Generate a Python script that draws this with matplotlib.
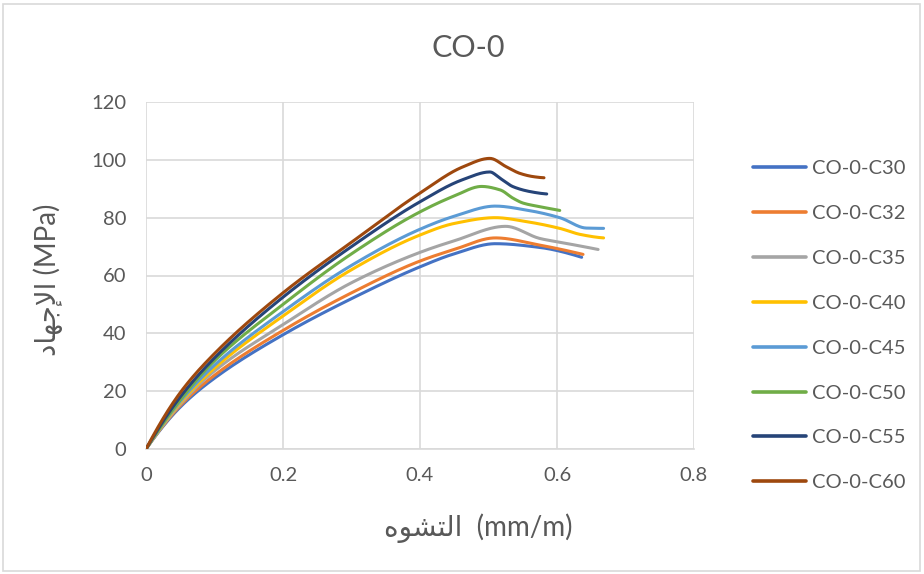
import numpy as np
import matplotlib
matplotlib.use("Agg")
import matplotlib.pyplot as plt
from matplotlib.patches import Rectangle

# ---------------- data ----------------
title = "CO-0"
series_labels = ["CO-0-C30", "CO-0-C32", "CO-0-C35", "CO-0-C40",
                 "CO-0-C45", "CO-0-C50", "CO-0-C55", "CO-0-C60"]
series_colors = ["#4472C4", "#ED7D31", "#A5A5A5", "#FFC000",
                 "#5B9BD5", "#70AD47", "#264478", "#9E480E"]

strain_c30 = [0, 0.05, 0.1, 0.2, 0.3, 0.4, 0.45, 0.51, 0.575, 0.636]
stress_c30 = [0, 14.5, 24.5, 39.5, 52.0, 63.0, 67.5, 71.0, 69.7, 66.3]

strain_c32 = [0, 0.05, 0.1, 0.2, 0.3, 0.4, 0.45, 0.51, 0.575, 0.638]
stress_c32 = [0, 15.0, 25.5, 41.0, 54.0, 65.0, 69.0, 73.0, 70.5, 67.3]

strain_c35 = [0, 0.05, 0.1, 0.2, 0.3, 0.4, 0.45, 0.525, 0.575, 0.604, 0.634, 0.66]
stress_c35 = [0, 15.5, 27.0, 43.0, 57.5, 68.0, 72.0, 77.0, 72.8, 71.5, 70.2, 69.0]

strain_c40 = [0, 0.05, 0.1, 0.2, 0.3, 0.4, 0.45, 0.51, 0.556, 0.604, 0.634, 0.668]
stress_c40 = [0, 16.0, 28.0, 46.0, 62.0, 74.0, 78.0, 80.0, 78.6, 76.3, 74.2, 73.0]

strain_c45 = [0, 0.05, 0.1, 0.2, 0.3, 0.4, 0.45, 0.51, 0.556, 0.604, 0.643, 0.668]
stress_c45 = [0, 16.5, 29.0, 47.5, 63.5, 76.0, 80.5, 84.0, 82.6, 80.0, 76.4, 76.3]

strain_c50 = [0, 0.05, 0.1, 0.2, 0.3, 0.4, 0.45, 0.49, 0.517, 0.536, 0.551, 0.575, 0.604]
stress_c50 = [0, 17.0, 30.5, 50.0, 67.5, 82.0, 87.5, 90.8, 89.6, 86.7, 85.0, 83.8, 82.5]

strain_c55 = [0, 0.05, 0.1, 0.2, 0.3, 0.4, 0.463, 0.502, 0.517, 0.536, 0.561, 0.585]
stress_c55 = [0, 18.0, 31.5, 52.5, 70.0, 85.5, 93.2, 95.8, 93.6, 90.7, 89.0, 88.2]

strain_c60 = [0, 0.05, 0.1, 0.2, 0.3, 0.4, 0.463, 0.502, 0.526, 0.546, 0.565, 0.581]
stress_c60 = [0, 19.5, 33.0, 54.0, 71.5, 88.5, 97.6, 100.5, 97.6, 95.3, 94.2, 93.8]

x_ticks = [0, 0.2, 0.4, 0.6, 0.8]
x_tick_labels = ["0", "0.2", "0.4", "0.6", "0.8"]
y_ticks = [0, 20, 40, 60, 80, 100, 120]

# Arabic text in pre-shaped presentation forms, visual (left-to-right) order
x_label = "\uFEE9\uFEEE\uFEB8\uFE98\uFEDF\uFE8D  (mm/m)"      # التشوه (mm/m)
y_label = "\uFEA9\uFE8E\uFEEC\uFE9F\uFEF9\uFE8D (MPa)"        # الإجهاد (MPa)

series = [(strain_c30, stress_c30), (strain_c32, stress_c32),
          (strain_c35, stress_c35), (strain_c40, stress_c40),
          (strain_c45, stress_c45), (strain_c50, stress_c50),
          (strain_c55, stress_c55), (strain_c60, stress_c60)]


def pchip(x, y, xs):
    x = np.asarray(x, float)
    y = np.asarray(y, float)
    n = len(x)
    h = np.diff(x)
    delta = np.diff(y) / h
    d = np.zeros(n)
    for k in range(1, n - 1):
        if delta[k - 1] * delta[k] > 0:
            w1 = 2 * h[k] + h[k - 1]
            w2 = h[k] + 2 * h[k - 1]
            d[k] = (w1 + w2) / (w1 / delta[k - 1] + w2 / delta[k])
    d0 = ((2 * h[0] + h[1]) * delta[0] - h[0] * delta[1]) / (h[0] + h[1])
    if np.sign(d0) != np.sign(delta[0]):
        d0 = 0
    d[0] = d0
    dn = ((2 * h[-1] + h[-2]) * delta[-1] - h[-1] * delta[-2]) / (h[-1] + h[-2])
    if np.sign(dn) != np.sign(delta[-1]):
        dn = 0
    d[-1] = dn
    idx = np.clip(np.searchsorted(x, xs) - 1, 0, n - 2)
    t = (xs - x[idx]) / h[idx]
    h00 = 2 * t**3 - 3 * t**2 + 1
    h10 = t**3 - 2 * t**2 + t
    h01 = -2 * t**3 + 3 * t**2
    h11 = t**3 - t**2
    return h00 * y[idx] + h10 * h[idx] * d[idx] + h01 * y[idx + 1] + h11 * h[idx] * d[idx + 1]


plt.rcParams["font.family"] = ["Lato", "DejaVu Sans"]
txt_color = "#595959"
grid_color = "#D9D9D9"

fig = plt.figure(figsize=(9.24, 5.74), dpi=100)
W, H = 924, 574
ax = fig.add_axes([146 / W, 1 - 449 / H, (694 - 146) / W, (449 - 102) / H])

lines = []
for (sx, sy), lab, col in zip(series, series_labels, series_colors):
    xs = np.linspace(sx[0], sx[-1], 400)
    ys = pchip(sx, sy, xs)
    ln, = ax.plot(xs, ys, color=col, lw=2.2, label=lab, solid_capstyle="round", zorder=3)
    lines.append(ln)

ax.set_xlim(0, 0.8)
ax.set_ylim(0, 120)
ax.set_xticks(x_ticks)
ax.set_xticklabels(x_tick_labels)
ax.set_yticks(y_ticks)
ax.grid(True, color=grid_color, lw=1.2, zorder=0)
ax.set_axisbelow(True)
for s in ["top", "right", "left"]:
    ax.spines[s].set_visible(False)
ax.spines["bottom"].set_color(grid_color)
ax.spines["bottom"].set_linewidth(1.2)
ax.tick_params(length=0, labelsize=14.5, labelcolor=txt_color)
ax.tick_params(axis="x", pad=13)
ax.tick_params(axis="y", pad=14)

fig.text(468 / W, 1 - 48 / H, title, ha="center", va="center", fontsize=22, color=txt_color)
fig.text(478 / W, 1 - 528 / H, x_label, ha="center", va="center", fontsize=20,
         color=txt_color, family=["Lato", "DejaVu Sans"])
fig.text(48 / W, 1 - 280 / H, y_label, ha="center", va="center", fontsize=20,
         rotation=90, color=txt_color, family=["Lato", "DejaVu Sans"])

leg = fig.legend(handles=lines, loc="upper left", bbox_to_anchor=(745 / W, 1 - 152 / H),
                 frameon=False, fontsize=14.5, handlelength=2.65, handletextpad=0.3,
                 labelspacing=1.38, borderaxespad=0)
for t in leg.get_texts():
    t.set_color(txt_color)
for l in leg.get_lines():
    l.set_linewidth(2.6)

fig.add_artist(Rectangle((3 / W, 3 / H), (W - 7) / W, (H - 7) / H, transform=fig.transFigure,
                         fill=False, edgecolor=grid_color, lw=1.2))

fig.savefig("out.png", dpi=100)
